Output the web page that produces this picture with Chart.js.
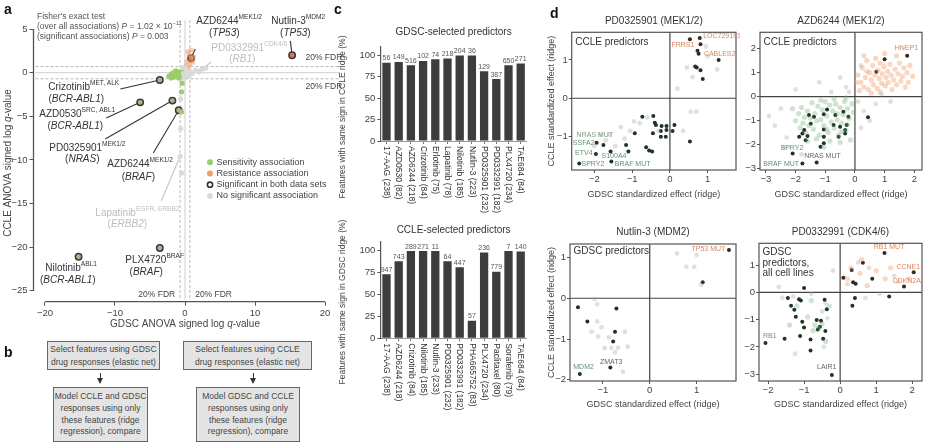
<!DOCTYPE html>
<html><head><meta charset="utf-8">
<script src="https://cdn.jsdelivr.net/npm/chart.js@4.4.1/dist/chart.umd.min.js"></script>
<style>
html,body{margin:0;padding:0;background:#fff}
#page{position:relative;width:926px;height:443px;overflow:hidden;font-family:"Liberation Sans",Arial,Helvetica,sans-serif;color:#3a3a3a}
#page canvas{position:absolute}
.tag{position:absolute;font-weight:bold;font-size:14px;color:#111;line-height:14px}
.box{position:absolute;box-sizing:border-box;background:#e4e4e4;border:1.5px solid #666;font-size:8.5px;text-align:center;color:#444;white-space:nowrap}
.shaft{position:absolute;width:1.4px;background:#333}
.head{position:absolute;width:0;height:0;border-left:3.5px solid transparent;border-right:3.5px solid transparent;border-top:6px solid #333}
</style></head><body>
<div id="page">
<canvas id="pa" width="345" height="335" style="left:0;top:0"></canvas>
<canvas id="pc1" width="230" height="220" style="left:330px;top:0"></canvas>
<canvas id="pc2" width="230" height="223" style="left:330px;top:220px"></canvas>
<canvas id="pd1" width="195" height="215" style="left:545px;top:0"></canvas>
<canvas id="pd2" width="186" height="215" style="left:740px;top:0"></canvas>
<canvas id="pd3" width="195" height="223" style="left:545px;top:220px"></canvas>
<canvas id="pd4" width="186" height="223" style="left:740px;top:220px"></canvas>

<div class="tag" style="left:4px;top:2px">a</div>
<div class="tag" style="left:4px;top:345px">b</div>
<div class="tag" style="left:334px;top:2px">c</div>
<div class="tag" style="left:550px;top:6px">d</div>

<div class="box" style="left:47px;top:341px;width:113px;height:29px;line-height:12.5px;padding-top:1px">Select features using GDSC<br>drug responses (elastic net)</div>
<div class="shaft" style="left:99.5px;top:373px;height:6px"></div>
<div class="head" style="left:96.7px;top:378px"></div>
<div class="box" style="left:53px;top:387px;width:95px;height:55px;line-height:11.8px;padding-top:3px">Model CCLE and GDSC<br>responses using only<br>these features (ridge<br>regression), compare</div>

<div class="box" style="left:183px;top:341px;width:129px;height:29px;line-height:12.5px;padding-top:1px">Select features using CCLE<br>drug responses (elastic net)</div>
<div class="shaft" style="left:252.5px;top:373px;height:6px"></div>
<div class="head" style="left:249.7px;top:378px"></div>
<div class="box" style="left:196px;top:387px;width:104px;height:55px;line-height:11.8px;padding-top:3px">Model GDSC and CCLE<br>responses using only<br>these features (ridge<br>regression), compare</div>
</div>

<script>
const FONT = '"Liberation Sans", Arial, Helvetica, sans-serif';
Chart.defaults.font.family = FONT;
Chart.defaults.color = '#444';
Chart.defaults.animation = false;
Chart.defaults.plugins.legend.display = false;
Chart.defaults.plugins.tooltip.enabled = false;

// ---------------- panel a data ----------------
const fdrLevel = 0.7;
const noSigPts = [[0.3,0.2],[-0.2,-0.1],[0.5,-0.4],[0.1,0.5],[-0.4,0.6],[0.8,0.1],[1.5,0.3],[2.0,0.1],[0.6,-0.2],[-0.1,-0.6],[0.2,-0.3],[1.0,-0.1],[-0.6,-3.0],[-0.6,-6.4],[2.9,0.5],[-0.5,-11.5]];
const sensPts = [[-2.3,-0.4],[-1.9,-0.1],[-1.6,-0.5],[-1.3,0.2],[-1.1,-0.3],[-0.9,-0.6],[-0.7,0.1],[-0.5,-0.2],[-0.3,-0.5],[-0.2,0.3],[-1.5,0.1],[-0.8,-0.1],[-2.0,-0.6],[-0.4,-1.2],[-0.5,-2.2],[-0.5,-4.5]];
const resPts = [[0.3,1.3],[0.6,2.0],[0.9,2.6],[1.2,1.8],[0.4,2.4],[1.1,1.2],[0.2,0.8],[0.5,0.4],[0.7,1.0]];
const originRingPts = [[0,0.1],[-0.2,-0.1],[0.15,-0.15],[0.05,0.35],[-0.1,-0.35]];
const bothName = ['AZD6244','Nutlin-3','Crizotinib','AZD0530','PD0325901','AZD6244','Nilotinib','PLX4720'];
const bothTarget = ['MEK1/2','MDM2','MET, ALK','SRC, ABL1','MEK1/2','MEK1/2','ABL1','BRAF'];
const bothGene = ['TP53','TP53','BCR-ABL1','BCR-ABL1','NRAS','BRAF','BCR-ABL1','BRAF'];
const bothGdsc = [0.86, 15.3, -3.6, -6.4, -1.8, -0.9, -15.2, -3.6];
const bothCcle = [1.65, 2.0, -0.84, -3.4, -3.2, -4.3, -21.1, -20.1];
const bothKind = ['res','res','sens','sens','sens','sens','sens','sens'];
const greyName = ['PD0332991','Lapatinib'];
const greyTarget = ['CDK4/6','EGFR, ERBB2'];
const greyGene = ['RB1','ERBB2'];
const greyGdsc = [2.4, -0.7];
const greyCcle = [0.4, -9.6];
const fisherAll = ['1.02 × 10', '−11'];
const fisherSig = '0.003';

// ---------------- panel c data ----------------
const gdscSelDrugs = ['17-AAG (238)','AZD0530 (82)','AZD6244 (218)','Crizotinib (84)','Erlotinib (75)','Lapatinib (78)','Nilotinib (185)','Nutlin-3 (223)','PD0325901 (232)','PD0332991 (182)','PLX4720 (234)','TAE684 (84)'];
const gdscSelPct = [91, 92, 88, 93, 95, 96, 99.5, 99.5, 81, 72, 88, 90];
const gdscSelN = [56, 149, 516, 102, 74, 218, 204, 36, 129, 387, 650, 271];
const ccleSelDrugs = ['17-AAG (238)','AZD6244 (218)','Crizotinib (84)','Nilotinib (185)','Nutlin-3 (233)','PD0325901 (232)','PD0332991 (182)','PHA665752 (83)','PLX4720 (234)','Paclitaxel (80)','Sorafenib (79)','TAE684 (84)'];
const ccleSelPct = [73, 88, 99.5, 99.5, 99.5, 88, 81, 20, 98, 76, 99.5, 99];
const ccleSelN = [947, 743, 289, 271, 11, 64, 447, 57, 236, 779, 7, 140];

// ---------------- panel d data ----------------
const d1Sens = [[-0.73,-0.48],[-0.44,-0.46],[-0.40,-0.64],[-0.37,-0.70],[-0.22,-0.72],[-0.09,-0.72],[0.12,-0.70],[0.07,-0.85],[-0.09,-0.83],[-0.24,-0.85],[-0.24,-1.0],[-0.11,-1.0],[-0.45,-0.91],[-0.93,-0.91],[0.53,-1.13],[-1.16,-1.22],[-1.10,-1.39],[-0.63,-1.28],[-0.55,-1.36],[-0.47,-1.39],[-1.76,-1.22],[-1.94,-1.16],[-1.96,-1.45],[-1.57,-1.39],[-1.55,-1.65],[-2.40,-1.70]];
const d1Res = [[0.53,1.54],[0.79,1.57],[0.81,1.41],[0.73,1.24],[0.76,1.16],[1.29,1.0],[0.67,0.83],[0.71,0.80],[0.81,0.73],[0.87,0.5]];
const d1Faint = [[0.45,0.8],[0.95,1.35],[0.2,0.25],[0.7,-0.35],[1.25,0.75],[0.6,0.55],[1.0,1.1],[-1.3,-0.75],[-1.6,-0.95],[-1.05,-0.85],[-0.8,-0.65],[-1.2,-1.05],[-0.6,-0.5],[-1.85,-0.95],[-1.45,-1.25],[-0.3,-0.85],[0.35,-0.85],[-0.95,-0.6],[-1.7,-1.1],[-2.0,-1.25],[0.55,-0.35]];
const d2Res = [[0.72,1.04],[1.0,1.56],[1.76,1.7]];
const d2Sens = [[-0.94,-0.53],[-1.05,-0.73],[-1.38,-0.83],[-1.55,-0.76],[-0.66,-0.76],[-0.39,-0.63],[-0.22,-0.83],[-0.72,-1.18],[-1.05,-1.36],[-0.5,-1.25],[-0.33,-1.39],[-0.28,-1.18],[-1.49,-1.13],[-1.71,-1.39],[-1.77,-1.53],[-1.6,-1.64],[-1.88,-1.67],[-1.66,-1.81],[-0.55,-1.67],[-1.05,-1.67],[-0.33,-1.53],[-1.16,-2.08],[-1.05,-1.94],[-2.1,-2.36],[-1.29,-2.74],[-1.77,-2.78],[0.44,-0.86]];
const d2FaintRes = [[0.1,0.9],[0.2,0.6],[0.25,1.2],[0.3,0.4],[0.35,0.8],[0.4,1.5],[0.45,0.3],[0.5,1.0],[0.55,0.7],[0.6,1.3],[0.62,0.5],[0.68,0.9],[0.7,1.6],[0.75,0.35],[0.78,1.1],[0.82,0.75],[0.85,1.4],[0.9,0.55],[0.92,0.95],[0.98,1.25],[1.02,0.45],[1.05,0.8],[1.1,1.05],[1.12,0.6],[1.18,1.35],[1.22,0.9],[1.25,0.3],[1.3,0.7],[1.35,1.15],[1.4,0.5],[1.45,0.95],[1.5,1.4],[1.55,0.65],[1.6,0.85],[1.65,1.2],[1.7,0.4],[1.75,1.0],[1.8,0.6],[1.85,1.3],[0.3,1.7],[0.15,0.25],[0.55,0.15],[1.0,1.8],[1.4,1.7],[0.05,0.6],[0.4,1.05],[0.85,0.2],[1.95,0.85]];
const d2FaintSens = [[-0.1,-0.3],[-0.2,-0.9],[-0.25,-0.5],[-0.3,-1.4],[-0.35,-0.2],[-0.4,-0.75],[-0.45,-1.1],[-0.5,-0.45],[-0.55,-1.6],[-0.6,-0.95],[-0.65,-0.3],[-0.7,-1.3],[-0.75,-0.6],[-0.8,-1.05],[-0.85,-0.35],[-0.9,-1.5],[-0.95,-0.8],[-1.0,-0.2],[-1.05,-1.2],[-1.1,-0.55],[-1.15,-0.95],[-1.2,-1.6],[-1.25,-0.4],[-1.3,-1.0],[-1.35,-0.7],[-1.4,-1.35],[-1.45,-0.25],[-1.5,-0.9],[-1.55,-1.2],[-1.6,-0.6],[-1.65,-1.5],[-1.7,-0.85],[-1.75,-1.1],[-1.8,-0.45],[-1.85,-1.3],[-1.9,-0.7],[-2.0,-1.0],[-2.1,-0.5],[-0.15,-1.8],[-0.5,-1.9],[-0.85,-1.85],[-1.05,-2.1],[-0.3,-0.05],[-0.7,-0.1],[-1.15,-0.15],[-0.45,-1.45],[-0.95,-1.35],[-1.3,-1.75],[-0.25,-1.15],[-0.6,-0.7],[-0.05,-0.65],[-1.6,-1.85]];
const d2Faint = [[-2.5,-0.5],[-2.7,-1.2],[-2.3,-1.7],[0.3,-0.6],[0.5,-1.0],[0.2,-1.3],[-0.3,0.4],[-1.2,0.6],[-2.0,0.3],[0.2,1.3],[-0.5,0.8],[0.7,-0.3],[-2.4,-2.1],[-1.8,-2.4],[0.1,-0.2],[-0.2,0.2],[-2.9,-0.8],[1.2,-0.2],[0.9,0.1],[-0.8,0.2]];
const d3Res = [[1.69,1.18],[1.13,0.39]];
const d3Sens = [[-1.53,-0.22],[-0.71,-0.25],[-1.33,-0.57],[-0.74,-0.82],[-0.78,-1.06],[-0.84,-1.70],[-1.49,-1.86]];
const d3Faint = [[0.58,1.10],[1.0,1.06],[0.78,0.77],[0.95,0.77],[1.1,0.33],[-1.18,-0.02],[-1.12,-0.15],[-1.12,-0.57],[-1.03,-0.71],[-1.24,-0.82],[-0.53,-0.82],[-1.1,-0.94],[-0.87,-0.96],[-0.96,-1.22],[-0.82,-1.22],[-0.68,-1.22],[-0.47,-1.19],[-0.74,-1.33],[-0.57,-1.80]];
const d4Res = [[1.23,1.44],[2.04,0.74],[1.77,0.22],[0.63,1.09],[0.32,0.82],[0.89,0.50],[0.09,0.54],[0.36,0.37],[0.43,0.32],[1.36,-0.15],[0.41,-0.21],[0.34,-0.49]];
const d4Sens = [[-1.0,0.16],[-1.45,-0.21],[-1.14,-0.25],[-1.09,-0.30],[-1.36,-0.49],[-1.27,-0.64],[-1.23,-0.89],[-0.43,-0.27],[-0.37,-0.62],[-1.05,-1.08],[-1.0,-1.29],[-0.65,-1.01],[-0.53,-1.04],[-0.56,-1.26],[-0.62,-1.36],[-0.41,-1.42],[-1.11,-1.60],[-0.82,-1.73],[-0.47,-1.70],[-0.82,-2.13],[-1.54,-1.70],[-2.07,-1.86],[-0.23,-3.03]];
const d4FaintSens = [[-0.6,-1.3],[-0.7,-1.2],[-0.5,-1.15],[-0.75,-1.4],[-0.9,-0.9],[-1.2,-0.5],[-0.3,-0.5],[-1.4,-1.2],[-0.4,-1.8],[-0.8,-0.3]];
const d4FaintRes = [[0.3,0.9],[0.6,1.2],[1.0,0.8],[1.4,0.9],[0.2,0.5],[0.75,0.25],[1.25,0.5],[1.9,0.5],[0.55,0.7]];
const d4Faint = [[-1.6,-0.2],[-1.3,-0.15],[-0.8,-0.05],[-0.4,-0.4],[-1.7,0.2],[-0.2,0.8],[0.5,1.1],[0.8,0.9],[1.5,0.6],[1.1,-0.05],[0.7,-0.2],[-1.0,1.0],[-0.45,-2.0],[-1.25,-2.25],[-0.35,-0.95],[0.2,0.3],[1.6,0.4],[-0.5,-0.7]];

// ---------------- helpers ----------------
const xy = arr => arr.map(p => ({x: p[0], y: p[1]}));
const minus = v => (v < 0 ? '−' : '') + Math.abs(v);

function drawRich(ctx, parts, x, y, size, color, align) {
  const fontOf = st => (st === 'i' ? 'italic ' : '') + (st === 's' ? size * 0.66 : size) + 'px ' + FONT;
  let w = 0;
  parts.forEach(p => { ctx.font = fontOf(p[1]); w += ctx.measureText(p[0]).width; });
  let cx = align === 'center' ? x - w / 2 : align === 'right' ? x - w : x;
  ctx.fillStyle = color; ctx.textAlign = 'left'; ctx.textBaseline = 'middle';
  parts.forEach(p => {
    ctx.font = fontOf(p[1]);
    ctx.fillText(p[0], cx, p[1] === 's' ? y - size * 0.38 : y);
    cx += ctx.measureText(p[0]).width;
  });
}
function seg(ctx, x1, y1, x2, y2) { ctx.beginPath(); ctx.moveTo(x1, y1); ctx.lineTo(x2, y2); ctx.stroke(); }
function rotText(ctx, t, x, y, ang, size, color, align) {
  ctx.save(); ctx.translate(x, y); ctx.rotate(ang);
  ctx.font = size + 'px ' + FONT; ctx.fillStyle = color; ctx.textAlign = align || 'center'; ctx.textBaseline = 'middle';
  ctx.fillText(t, 0, 0); ctx.restore();
}

// ---------------- panel a ----------------
// label layout in data units: line1 left x, line1 y, line2 centre x, line2 y, leader start x, y
const aLabelPos = [
  [1.61, 5.93, 5.61, 4.55, 1.47, 2.72],
  [12.33, 5.93, 15.76, 4.55, 15.04, 3.64],
  [-19.53, -1.64, -15.53, -3.02, -9.24, -1.87],
  [-20.81, -4.74, -15.67, -6.11, -11.24, -5.19],
  [-19.39, -8.64, -14.67, -9.9, -11.39, -7.6],
  [-11.1, -10.5, -6.67, -11.96, -4.53, -9.21],
  [-19.96, -22.4, -16.74, -23.77, null, null],
  [-8.53, -21.48, -5.53, -22.86, null, null]
];
const aGreyLabelPos = [
  [3.76, 2.83, 8.19, 1.57, 3.76, 1.23],
  [-12.81, -16.09, -8.24, -17.41, -3.39, -14.71]
];
const GREEN = '#9ccc6c', ORANGE = '#f29c66', NOSIG = '#dadada';

const panelA = {
  id: 'panelA',
  beforeDatasetsDraw(chart) {
    const {ctx, chartArea: a, scales: {x, y}} = chart;
    ctx.save();
    ctx.lineWidth = 1;
    ctx.strokeStyle = '#cfcfcf';
    seg(ctx, x.getPixelForValue(0), a.top, x.getPixelForValue(0), a.bottom - 2);
    seg(ctx, a.left + 2, y.getPixelForValue(0), a.right + 10, y.getPixelForValue(0));
    ctx.setLineDash([3, 2]); ctx.strokeStyle = '#b9b9b9';
    [-fdrLevel, fdrLevel].forEach(v => {
      seg(ctx, x.getPixelForValue(v), a.top, x.getPixelForValue(v), a.bottom - 2);
      seg(ctx, a.left + 2, y.getPixelForValue(v), a.right + 10, y.getPixelForValue(v));
    });
    ctx.setLineDash([]);
    ctx.lineWidth = 1.1;
    aLabelPos.forEach((p, i) => {
      if (p[4] === null) return;
      ctx.strokeStyle = '#333';
      seg(ctx, x.getPixelForValue(p[4]), y.getPixelForValue(p[5]), x.getPixelForValue(bothGdsc[i]), y.getPixelForValue(bothCcle[i]));
    });
    aGreyLabelPos.forEach((p, i) => {
      ctx.strokeStyle = '#c4c4c4';
      seg(ctx, x.getPixelForValue(p[4]), y.getPixelForValue(p[5]), x.getPixelForValue(greyGdsc[i]), y.getPixelForValue(greyCcle[i]));
    });
    ctx.restore();
  },
  afterDraw(chart) {
    const {ctx, chartArea: a, scales: {x, y}} = chart;
    ctx.save();
    ctx.strokeStyle = '#555'; ctx.lineWidth = 1.3;
    seg(ctx, a.left, y.getPixelForValue(5), a.left, y.getPixelForValue(-25));
    seg(ctx, x.getPixelForValue(-20), a.bottom, x.getPixelForValue(20), a.bottom);
    // drug labels
    const put = (pos, name, target, gene, col) => {
      drawRich(ctx, [[name, ''], [target, 's']], x.getPixelForValue(pos[0]), y.getPixelForValue(pos[1]), 10, col, 'left');
      drawRich(ctx, [['(', ''], [gene, 'i'], [')', '']], x.getPixelForValue(pos[2]), y.getPixelForValue(pos[3]), 10, col, 'center');
    };
    aLabelPos.forEach((p, i) => put(p, bothName[i], bothTarget[i], bothGene[i], '#333'));
    aGreyLabelPos.forEach((p, i) => put(p, greyName[i], greyTarget[i], greyGene[i], '#bdbdbd'));
    // FDR labels
    ctx.font = '8.5px ' + FONT; ctx.fillStyle = '#444'; ctx.textBaseline = 'middle';
    ctx.textAlign = 'left';
    ctx.fillText('20% FDR', x.getPixelForValue(17.2), y.getPixelForValue(1.7));
    ctx.fillText('20% FDR', x.getPixelForValue(17.2), y.getPixelForValue(-1.65));
    ctx.fillText('20% FDR', x.getPixelForValue(1.45), y.getPixelForValue(-25.4));
    ctx.textAlign = 'right';
    ctx.fillText('20% FDR', x.getPixelForValue(-1.4), y.getPixelForValue(-25.4));
    // Fisher text
    drawRich(ctx, [["Fisher's exact test", '']], 37, 17, 8.5, '#555', 'left');
    drawRich(ctx, [['(over all associations) ', ''], ['P', 'i'], [' = ' + fisherAll[0], ''], [fisherAll[1], 's']], 37, 27, 8.5, '#555', 'left');
    drawRich(ctx, [['(significant associations) ', ''], ['P', 'i'], [' = ' + fisherSig, '']], 37, 37, 8.5, '#555', 'left');
    // legend
    const leg = [['Sensitivity association', GREEN, null], ['Resistance association', ORANGE, null], ['Significant in both data sets', '#fff', '#333'], ['No significant association', NOSIG, null]];
    leg.forEach((l, i) => {
      const ly = 162.3 + i * 11.2;
      ctx.beginPath(); ctx.arc(210, ly, l[2] ? 2.6 : 3, 0, Math.PI * 2);
      ctx.fillStyle = l[1]; ctx.fill();
      if (l[2]) { ctx.lineWidth = 1.6; ctx.strokeStyle = l[2]; ctx.stroke(); }
      ctx.font = '9px ' + FONT; ctx.fillStyle = '#444'; ctx.textAlign = 'left'; ctx.textBaseline = 'middle';
      ctx.fillText(l[0], 216.5, ly);
    });
    // axis titles
    drawRich(ctx, [['GDSC ANOVA signed log ', ''], ['q', 'i'], ['-value', '']], x.getPixelForValue(0), 324, 10, '#444', 'center');
    ctx.translate(8, 163); ctx.rotate(-Math.PI / 2);
    drawRich(ctx, [['CCLE ANOVA signed log ', ''], ['q', 'i'], ['-value', '']], 0, 0, 10, '#444', 'center');
    ctx.restore();
  }
};

new Chart(document.getElementById('pa'), {
  type: 'scatter',
  data: {
    datasets: [
      {data: xy(noSigPts), pointRadius: 2.6, pointBackgroundColor: NOSIG, pointBorderWidth: 0},
      {data: xy(sensPts), pointRadius: 2.6, pointBackgroundColor: GREEN, pointBorderWidth: 0},
      {data: xy(resPts), pointRadius: 2.6, pointBackgroundColor: 'rgba(242,156,102,0.55)', pointBorderWidth: 0},
      {data: greyGdsc.map((v, i) => ({x: v, y: greyCcle[i]})), pointRadius: 2.6, pointBackgroundColor: NOSIG, pointBorderWidth: 0},
      {data: xy(originRingPts), pointRadius: 2.8, pointBackgroundColor: '#aaa', pointBorderColor: '#333', pointBorderWidth: 1.4},
      {data: bothGdsc.map((v, i) => ({x: v, y: bothCcle[i]})), pointRadius: 3.2,
        pointBackgroundColor: bothKind.map(k => k === 'res' ? '#d9775a' : '#a9b58a'), pointBorderColor: '#3a3a3a', pointBorderWidth: 1.5}
    ]
  },
  options: {
    responsive: false, devicePixelRatio: 1,
    layout: {padding: {top: 20, right: 15, bottom: 0, left: 0}},
    scales: {
      x: {min: -21.64, max: 20.71, afterFit: s => { s.height = 33.3; },
        border: {display: false},
        grid: {drawOnChartArea: false, tickLength: 4, color: '#555'},
        ticks: {stepSize: 10, includeBounds: false, padding: 2, color: '#444', font: {size: 9.5}, callback: minus, maxRotation: 0}},
      y: {min: -26.26, max: 6.04, afterFit: s => { s.width = 33.5; },
        border: {display: false},
        grid: {drawOnChartArea: false, tickLength: 4, color: '#555'},
        ticks: {stepSize: 5, includeBounds: false, padding: 2, color: '#444', font: {size: 9.5}, callback: minus}}
    }
  },
  plugins: [panelA]
});

// ---------------- panel c ----------------
function barPanel(id, labels, pct, counts, box, ch, title, titleY, yTitle, yTitleCy) {
  const plug = {
    id: 'bars_' + id,
    afterDraw(chart) {
      const {ctx, chartArea: a, scales: {x}} = chart;
      ctx.save();
      const meta = chart.getDatasetMeta(0);
      ctx.font = '7px ' + FONT; ctx.fillStyle = '#555'; ctx.textAlign = 'center'; ctx.textBaseline = 'bottom';
      meta.data.forEach((el, i) => ctx.fillText(String(counts[i]), el.x, el.y - 1));
      labels.forEach((l, i) => rotText(ctx, l, x.getPixelForValue(i), a.bottom + 5, Math.PI / 2, 8.5, '#333', 'left'));
      ctx.font = '10px ' + FONT; ctx.fillStyle = '#333'; ctx.textAlign = 'center'; ctx.textBaseline = 'middle';
      ctx.fillText(title, (a.left + a.right) / 2, titleY);
      rotText(ctx, yTitle, 13, yTitleCy, -Math.PI / 2, 8.5, '#444');
      ctx.restore();
    }
  };
  new Chart(document.getElementById(id), {
    type: 'bar',
    data: {labels: labels, datasets: [{data: pct, backgroundColor: '#3d3d3d', barPercentage: 0.68, categoryPercentage: 1}]},
    options: {
      responsive: false, devicePixelRatio: 1,
      layout: {padding: {top: box.t, right: 230 - box.r, bottom: 0, left: 0}},
      scales: {
        x: {afterFit: s => { s.height = ch - box.b; },
          border: {display: true, color: '#999', width: 1},
          grid: {drawOnChartArea: false, offset: false, tickLength: 3, color: '#777'},
          ticks: {display: false}},
        y: {min: 0, max: 110, afterFit: s => { s.width = box.l; },
          border: {display: true, color: '#555', width: 1.2},
          grid: {drawOnChartArea: false, tickLength: 3, color: '#555'},
          ticks: {stepSize: 25, includeBounds: false, padding: 2, color: '#444', font: {size: 9.5}}}
      }
    },
    plugins: [plug]
  });
}
barPanel('pc1', gdscSelDrugs, gdscSelPct, gdscSelN, {l: 50.4, r: 196.8, t: 46.4, b: 141}, 220,
  'GDSC-selected predictors', 32, 'Features with same sign in CCLE ridge (%)', 117);
barPanel('pc2', ccleSelDrugs, ccleSelPct, ccleSelN, {l: 50.4, r: 196.8, t: 21.9, b: 118.3}, 223,
  'CCLE-selected predictors', 10, 'Features with same sign in GDSC ridge (%)', 82);

// ---------------- panel d ----------------
const FAINT_GREY = 'rgba(160,160,160,0.32)', FAINT_GREEN = 'rgba(105,170,110,0.32)', FAINT_ORANGE = 'rgba(238,150,95,0.38)';
const DARK_SENS = '#1f3327', DARK_RES = '#352820';
const OR_TXT = '#d9875e', GR_TXT = '#5f9272', GY_TXT = '#666';

function scatterPanel(id, cw, ch, box, xr, yr, sets, o) {
  const plug = {
    id: 'sc_' + id,
    beforeDatasetsDraw(chart) {
      const {ctx, chartArea: a, scales: {x, y}} = chart;
      ctx.save(); ctx.strokeStyle = '#444'; ctx.lineWidth = 1.2;
      seg(ctx, x.getPixelForValue(0), a.top, x.getPixelForValue(0), a.bottom);
      seg(ctx, a.left, y.getPixelForValue(0), a.right, y.getPixelForValue(0));
      ctx.restore();
    },
    afterDraw(chart) {
      const {ctx, chartArea: a, scales: {x, y}} = chart;
      ctx.save();
      ctx.strokeStyle = '#555'; ctx.lineWidth = 1.2;
      ctx.strokeRect(a.left, a.top, a.right - a.left, a.bottom - a.top);
      ctx.font = '7px ' + FONT; ctx.textBaseline = 'middle'; ctx.textAlign = 'left';
      o.labels.forEach(l => { ctx.fillStyle = l[3]; ctx.fillText(l[0], x.getPixelForValue(l[1]), y.getPixelForValue(l[2])); });
      ctx.font = '10px ' + FONT; ctx.fillStyle = '#333';
      o.inset.forEach((t, i) => ctx.fillText(t, a.left + 3.5, a.top + o.insetY + i * 10.5));
      ctx.textAlign = 'center';
      ctx.fillText(o.title, (a.left + a.right) / 2, o.titleY);
      ctx.font = '9px ' + FONT; ctx.fillStyle = '#444';
      ctx.fillText('GDSC standardized effect (ridge)', (a.left + a.right) / 2, o.xTitleY);
      if (o.yTitle) rotText(ctx, 'CCLE standardized effect (ridge)', 7, (a.top + a.bottom) / 2, -Math.PI / 2, 9, '#444');
      ctx.restore();
    }
  };
  new Chart(document.getElementById(id), {
    type: 'scatter',
    data: {datasets: sets.map(s => ({data: xy(s[0]), pointRadius: s[2], pointBackgroundColor: s[1], pointBorderWidth: 0}))},
    options: {
      responsive: false, devicePixelRatio: 1,
      layout: {padding: {top: box.t, right: cw - box.r, bottom: 0, left: 0}},
      scales: {
        x: {min: xr[0], max: xr[1], afterFit: s => { s.height = ch - box.b; },
          border: {display: false}, grid: {drawOnChartArea: false, tickLength: 3, color: '#555'},
          ticks: {stepSize: 1, includeBounds: false, padding: 1, color: '#444', font: {size: 9.5}, callback: minus, maxRotation: 0}},
        y: {min: yr[0], max: yr[1], afterFit: s => { s.width = box.l; },
          border: {display: false}, grid: {drawOnChartArea: false, tickLength: 3, color: '#555'},
          ticks: {stepSize: 1, includeBounds: false, padding: 1, color: '#444', font: {size: 9.5}, callback: minus}}
      }
    },
    plugins: [plug]
  });
}

scatterPanel('pd1', 195, 215, {l: 26.7, r: 191, t: 32.3, b: 170}, [-2.6, 1.75], [-1.87, 1.72],
  [[d1Faint, FAINT_GREY, 2.4], [d1Res, DARK_RES, 2], [d1Sens, DARK_SENS, 2]],
  {title: 'PD0325901 (MEK1/2)', titleY: 21, xTitleY: 195, yTitle: true, inset: ['CCLE predictors'], insetY: 9.5,
   labels: [['LOC729191', 0.88, 1.63, OR_TXT], ['FRRS1', 0.04, 1.39, OR_TXT], ['CABLES2', 0.9, 1.16, OR_TXT],
     ['NRAS MUT', -2.47, -0.96, '#7d9c86'], ['SSFA2', -2.57, -1.17, GR_TXT], ['ETV4', -2.51, -1.44, GR_TXT],
     ['SPRY2', -2.34, -1.72, GR_TXT], ['S100A4', -1.81, -1.51, GR_TXT], ['BRAF MUT', -1.46, -1.72, GR_TXT]]});

scatterPanel('pd2', 186, 215, {l: 20, r: 185, t: 32.3, b: 170}, [-3.2, 2.26], [-3.05, 2.68],
  [[d2Faint, FAINT_GREY, 2.4], [d2FaintSens, FAINT_GREEN, 2.6], [d2FaintRes, FAINT_ORANGE, 2.6], [d2Res, DARK_RES, 2], [d2Sens, DARK_SENS, 2]],
  {title: 'AZD6244 (MEK1/2)', titleY: 21, xTitleY: 195, yTitle: false, inset: ['CCLE predictors'], insetY: 9.5,
   labels: [['HNEP1', 1.34, 2.04, OR_TXT], ['SPRY2', -2.51, -2.15, GR_TXT], ['NRAS MUT', -1.71, -2.47, GY_TXT], ['BRAF MUT', -3.09, -2.8, GR_TXT]]});

scatterPanel('pd3', 195, 223, {l: 25, r: 191.7, t: 24, b: 161}, [-1.70, 1.84], [-2.03, 1.33],
  [[d3Faint, FAINT_GREY, 2.4], [d3Res, DARK_RES, 2], [d3Sens, DARK_SENS, 2]],
  {title: 'Nutlin-3 (MDM2)', titleY: 12.7, xTitleY: 185, yTitle: true, inset: ['GDSC predictors'], insetY: 7.7,
   labels: [['TP53 MUT', 0.89, 1.2, OR_TXT], ['ZMAT3', -1.06, -1.57, GY_TXT], ['MDM2', -1.63, -1.70, GR_TXT]]});

scatterPanel('pd4', 186, 223, {l: 19, r: 185, t: 23.3, b: 161}, [-2.25, 2.27], [-3.25, 1.8],
  [[d4Faint, FAINT_GREY, 2.4], [d4FaintSens, FAINT_GREEN, 2.6], [d4FaintRes, FAINT_ORANGE, 2.6], [d4Res, DARK_RES, 2], [d4Sens, DARK_SENS, 2]],
  {title: 'PD0332991 (CDK4/6)', titleY: 12.7, xTitleY: 185, yTitle: false, inset: ['GDSC', 'predictors,', 'all cell lines'], insetY: 9.4,
   labels: [['RB1 MUT', 0.93, 1.65, OR_TXT], ['CCNE1', 1.56, 0.93, OR_TXT], ['CDKN2A', 1.45, 0.41, OR_TXT], ['RB1', -2.14, -1.61, '#888'], ['LAIR1', -0.64, -2.75, GY_TXT]]});
</script>
</body></html>
